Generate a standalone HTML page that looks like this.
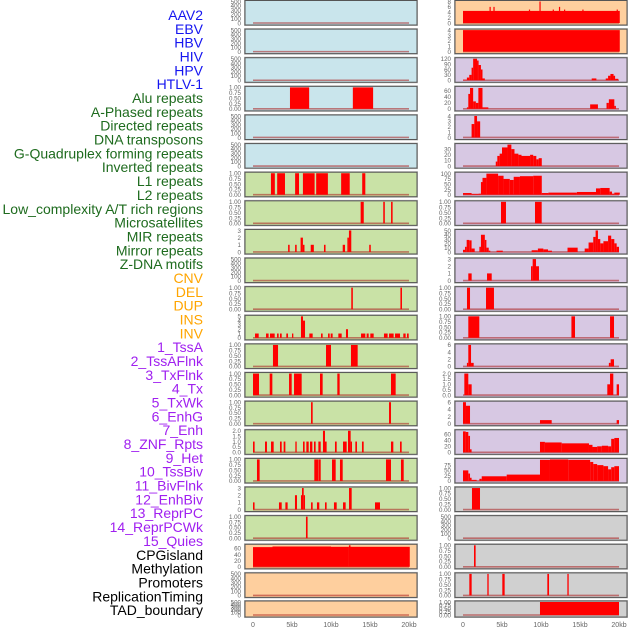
<!DOCTYPE html>
<html><head><meta charset="utf-8">
<style>
html,body{margin:0;padding:0;background:#fff;}
svg{display:block;font-family:"Liberation Sans",sans-serif;}
</style></head>
<body>
<svg id="chart" width="630" height="630" viewBox="0 0 630 630"></svg>
<script>
const labels = ["AAV2","EBV","HBV","HIV","HPV","HTLV-1","Alu repeats","A-Phased repeats","Directed repeats","DNA transposons","G-Quadruplex forming repeats","Inverted repeats","L1 repeats","L2 repeats","Low_complexity A/T rich regions","Microsatellites","MIR repeats","Mirror repeats","Z-DNA motifs","CNV","DEL","DUP","INS","INV","1_TssA","2_TssAFlnk","3_TxFlnk","4_Tx","5_TxWk","6_EnhG","7_Enh","8_ZNF_Rpts","9_Het","10_TssBiv","11_BivFlnk","12_EnhBiv","13_ReprPC","14_ReprPCWk","15_Quies","CPGisland","Methylation","Promoters","ReplicationTiming","TAD_boundary"];
const labelGroups = [6,13,5,15,5];
const groupColors = ["#1515f0","#1e6b1e","#ffa500","#a020f0","#000000"];
const xTicks = [0,5,10,15,20];
const xTickLabels = ["0","5kb","10kb","15kb","20kb"];

// left column panel data: [startKb, endKb, value]
const L1=[],L2=[],L3=[],L5=[],L6=[],L10=[],L21=[],L22=[];
const L4=[[4.74,7.2,1],[12.8,15.4,1]];
const L7=[[2.3,2.8,1],[3.1,4.1,1],[5.4,5.9,1],[6.4,7.9,1],[8.1,9.6,1],[11.3,12.4,1],[14.0,14.4,1]];
const L8=[[13.8,14.2,1],[16.7,16.9,1],[17.7,17.9,1]];
const L9=[[4.5,4.7,1],[5.4,5.6,1],[6.1,6.4,2],[6.4,6.6,1],[7.4,7.8,1],[9.1,9.3,1],[11.5,11.8,1],[12.1,12.3,2],[12.3,12.6,3],[14.9,15.1,1]];
const L11=[[12.6,12.8,1],[18.9,19.1,1]];
const L12=[[0.26,0.73,1],[1.67,2.0,1],[2.18,2.78,1],[3.08,3.29,1],[3.46,3.68,1],[4.27,4.49,1],[5.0,5.17,1],[6.15,6.41,5],[6.41,6.67,4],[7.22,7.65,1],[8.72,8.93,1],[9.62,9.83,1],[9.96,10.21,1],[10.94,11.37,1],[11.92,12.18,2],[13.85,14.4,1],[14.57,14.83,1],[15.04,15.47,1],[16.79,17.26,1],[17.44,18.03,1],[18.21,18.85,1],[19.27,19.57,1],[19.74,19.96,1]];
const L13=[[2.56,3.21,1],[9.36,10.0,1],[12.56,13.42,1]];
const L14=[[0,0.77,1],[2.14,2.48,1],[4.62,4.96,1],[5.26,6.24,1],[8.59,8.93,1],[10.81,11.11,1],[17.69,18.29,1]];
const L15=[[7.44,7.65,1],[17.44,17.69,1]];
const L16=[[0,0.21,1],[1.54,1.79,1],[2.31,2.65,1],[3.46,3.68,1],[3.93,4.15,1],[5.43,5.6,1],[6.41,6.62,1],[6.84,7.14,1],[7.31,7.61,1],[7.82,8.03,1],[8.38,8.68,1],[8.97,9.23,2],[9.23,9.44,1],[10.51,10.73,1],[11.54,12.01,1],[12.18,12.52,2],[12.52,12.69,1],[13.12,13.33,1],[13.97,14.19,1],[17.69,17.99,1],[18.85,19.06,1]];
const L17=[[0.51,0.85,1],[7.86,8.38,1],[8.42,8.68,1],[10.13,10.6,1],[11.15,11.5,1],[17.05,17.69,1],[18.97,19.32,1]];
const L18=[[0,0.2,1],[3.33,3.68,1],[4.15,4.44,1],[5.38,5.64,2],[6.15,6.3,2],[6.28,6.5,3],[6.5,6.67,2],[7.44,7.65,1],[8.2,8.5,1],[9.23,9.44,1],[10.38,10.73,1],[11.54,11.88,1],[12.31,12.65,3],[15.64,16.28,1]];
const L19=[[6.79,7.0,1]];
const L20=[[0,2.5,64],[2.5,10,66],[10,12.3,65],[12.3,12.5,70],[12.5,20.1,65]];

// right column panel data
const R1=[[0,20.1,4.5],[3.4,3.55,6],[3.9,4.05,6],[8.45,8.6,5],[9.8,9.95,8],[11.5,11.65,5],[12.3,12.45,6],[12.95,13.1,5],[15.3,15.45,5],[19.7,19.85,5]];
const R2=[[0,20.1,4]];
const R3=[[0,0.5,3],[0.5,0.8,15],[0.8,1.1,30],[1.1,1.3,70],[1.3,1.8,120],[1.8,2.0,110],[2.0,2.3,85],[2.3,2.5,60],[2.5,2.8,10],[16.5,17.1,10],[18.3,18.6,10],[18.6,18.9,25],[18.9,19.3,35],[19.3,19.5,25],[19.5,19.9,8]];
const R4=[[0.5,0.68,5],[0.68,0.9,50],[0.9,1.3,70],[1.3,1.65,25],[1.65,1.97,20],[1.97,2.5,70],[2.5,3.25,5],[16.3,17.3,15],[18.4,18.7,20],[18.7,19.4,32],[19.4,19.6,10]];
const R5=[[1.1,1.45,2.5],[1.45,1.8,4],[1.8,2.2,3]];
const R6=[[4.2,4.4,8],[4.4,4.7,18],[4.7,5.0,22],[5.0,5.7,33],[5.7,6.2,38],[6.2,6.6,30],[6.6,7.1,22],[7.1,7.5,20],[7.5,8.6,18],[8.6,9.0,20],[9.0,9.4,18],[9.4,9.7,12],[9.7,10.1,14]];
const R7=[[0,1.1,8],[1.1,2.0,4],[2.0,2.3,5],[2.3,2.5,60],[2.5,3.0,80],[3.0,4.5,100],[4.5,5.2,90],[5.2,6.0,75],[6.0,6.5,70],[6.5,7.3,85],[7.3,9.0,88],[9.0,10.1,90],[10.1,10.95,8],[10.95,14.6,10],[14.6,17.05,13],[17.05,17.6,30],[17.6,18.8,32],[18.8,19.1,15],[19.1,19.4,5],[19.4,20.1,10]];
const R8=[[4.87,5.51,1],[9.23,10.09,1]];
const R9=[[0,0.26,5],[0.26,0.47,12],[0.47,0.8,28],[0.8,1.1,27],[1.1,1.5,8],[2.1,2.3,12],[2.3,2.8,40],[2.8,3.0,28],[3.0,3.3,10],[3.3,3.5,3],[4.3,5.1,3],[8.8,9.6,4],[9.6,10.3,8],[10.3,10.9,6],[10.9,11.4,3],[13.4,14.7,10],[15.6,16.1,8],[16.1,16.7,22],[16.7,17.0,35],[17.0,17.3,50],[17.3,17.6,30],[17.6,18.0,20],[18.0,18.6,25],[18.6,19.0,38],[19.0,19.4,30],[19.4,19.7,20],[19.7,20.0,12]];
const R10=[[0.68,1.11,1],[3.08,3.68,1],[8.72,8.93,2],[8.93,9.36,3],[9.36,9.74,2]];
const R11=[[0.51,0.9,1],[2.95,3.97,1]];
const R12=[[0.68,2.09,1],[13.9,14.36,1],[18.85,19.36,1]];
const R13=[[0.5,0.68,1],[0.68,1.03,6],[1.03,1.37,1],[18.7,18.93,1],[18.93,19.36,2]];
const R14=[[0.17,0.68,2],[0.68,1.11,1],[18.5,18.85,1],[18.85,19.27,2],[19.7,20.0,1]];
const R15=[[0,0.38,6],[0.38,0.9,5],[9.87,11.37,1],[19.7,20.0,1]];
const R16=[[0,0.34,70],[0.34,0.68,68],[0.68,0.9,55],[0.9,1.1,10],[9.87,10.5,35],[10.5,12.65,33],[12.65,16.15,30],[16.15,16.6,25],[16.6,17.2,18],[17.2,17.8,20],[17.8,18.6,22],[18.6,19.0,20],[19.0,19.4,45],[19.4,20.0,48]];
const R17=[[0,0.68,50],[0.68,0.9,35],[0.9,1.1,15],[1.1,1.75,5],[2.1,2.4,10],[2.4,5.6,22],[5.6,9.87,30],[9.87,11.15,100],[11.15,13.5,102],[13.5,16.3,100],[16.3,16.7,90],[16.7,17.2,80],[17.2,18.0,75],[18.0,18.6,70],[18.6,19.0,55],[19.0,19.4,65],[19.4,20.0,70]];
const R18=[[1.15,2.18,1]];
const R19=[];
const R20=[[1.41,1.62,1]];
const R21=[[0.81,1.11,1],[3.12,3.29,1],[5.04,5.34,1],[10.81,11.03,1],[13.38,13.55,1]];
const R22=[[9.87,20.0,1]];

const leftData=[L1,L2,L3,L4,L5,L6,L7,L8,L9,L10,L11,L12,L13,L14,L15,L16,L17,L18,L19,L20,L21,L22];
const rightData=[R1,R2,R3,R4,R5,R6,R7,R8,R9,R10,R11,R12,R13,R14,R15,R16,R17,R18,R19,R20,R21,R22];
const leftTicks=[[0,100,200,300,400,500],[0,100,200,300,400,500],[0,100,200,300,400,500],[0,0.25,0.5,0.75,1],[0,100,200,300,400,500],[0,100,200,300,400,500],[0,0.25,0.5,0.75,1],[0,0.25,0.5,0.75,1],[0,1,2,3],[0,100,200,300,400,500],[0,0.25,0.5,0.75,1],[0,1,2,3,4,5],[0,0.25,0.5,0.75,1],[0,0.25,0.5,0.75,1],[0,0.25,0.5,0.75,1],[0,0.5,1,1.5,2],[0,0.25,0.5,0.75,1],[0,1,2,3],[0,0.25,0.5,0.75,1],[0,20,40,60],[0,100,200,300,400,500],[0,100,200,300,400,500]];
const leftMax=[500,500,500,1,500,500,1,1,3,500,1,5,1,1,1,2,1,3,1,70,500,500];
const rightTicks=[[0,2,4,6,8],[0,1,2,3,4],[0,30,60,90,120],[0,20,40,60],[0,1,2,3,4],[0,10,20,30],[0,25,50,75,100],[0,0.25,0.5,0.75,1],[0,10,20,30,40,50],[0,1,2,3],[0,0.25,0.5,0.75,1],[0,0.25,0.5,0.75,1],[0,2,4,6],[0,0.5,1,1.5,2],[0,2,4,6],[0,20,40,60],[0,25,50,75],[0,0.25,0.5,0.75,1],[0,100,200,300,400,500],[0,0.25,0.5,0.75,1],[0,0.25,0.5,0.75,1],[0,0.25,0.5,0.75,1]];
const rightMax=[8,4,120,72,4,38,102,1,50,3,1,1,6,2,6,72,102,1,500,1,1,1];
const leftBg=["#c9e5ec","#c9e5ec","#c9e5ec","#c9e5ec","#c9e5ec","#c9e5ec","#c9e2a6","#c9e2a6","#c9e2a6","#c9e2a6","#c9e2a6","#c9e2a6","#c9e2a6","#c9e2a6","#c9e2a6","#c9e2a6","#c9e2a6","#c9e2a6","#c9e2a6","#fecf9e","#fecf9e","#fecf9e"];
const rightBg=["#fecf9e","#fecf9e","#d7c8e3","#d7c8e3","#d7c8e3","#d7c8e3","#d7c8e3","#d7c8e3","#d7c8e3","#d7c8e3","#d7c8e3","#d7c8e3","#d7c8e3","#d7c8e3","#d7c8e3","#d7c8e3","#d7c8e3","#d0d0d0","#d0d0d0","#d0d0d0","#d0d0d0","#d0d0d0"];

const NS="http://www.w3.org/2000/svg";
const svg=document.getElementById('chart');
function mk(tag,attrs,parent){const e=document.createElementNS(NS,tag);for(const k in attrs)e.setAttribute(k,attrs[k]);(parent||svg).appendChild(e);return e;}

// labels
let gi=0,cnt=0;
labels.forEach((t,i)=>{
  while(cnt>=labelGroups[gi]){cnt=0;gi++;}
  cnt++;
  const tx=mk('text',{x:203,y:15+i*13.84+5,'text-anchor':'end','font-size':'14',fill:groupColors[gi]});
  tx.textContent=t;
  
  
});

function fmt(v,ticks){
  const dec=ticks.some(t=>Math.abs(t-Math.round(t))>1e-9);
  if(!dec) return String(v);
  const quarter=ticks.some(t=>Math.abs(t*4-Math.round(t*4))<1e-9 && Math.abs(t*2-Math.round(t*2))>1e-9);
  return v.toFixed(quarter?2:1);
}

function drawPanel(colLeft,x0px,top,h,bg,data,ymax,ticks,name){
  const g=mk('g',{});
  
  
  const w=172;
  mk('rect',{x:colLeft-0.5,y:top-0.5,width:w+1,height:h+1,fill:'none',stroke:'#bbb','stroke-width':1},g);
  mk('rect',{x:colLeft,y:top,width:w,height:h,fill:bg,stroke:'#555','stroke-width':1},g);
  const xs=k=>x0px+k*7.8;
  const ys=v=>top+h-2-(v/ymax)*(h-3);
  mk('line',{x1:xs(0),x2:xs(20),y1:ys(0),y2:ys(0),stroke:'rgba(170,30,30,0.55)','stroke-width':1.6},g);
  data.forEach(d=>{
    const x1=xs(d[0]),x2=xs(d[1]);
    const r=mk('rect',{x:x1,y:ys(Math.min(d[2],ymax)),width:Math.max(x2-x1,1.2),height:ys(0)-ys(Math.min(d[2],ymax)),fill:'#ff0000'},g);
    
    
  });
  ticks.forEach(t=>{
    if(t>ymax*1.02) return;
    const tt=mk('text',{x:colLeft-4,y:ys(t)+2.3,'text-anchor':'end','font-size':'6.2',fill:'#666'},g);
    tt.textContent=fmt(t,ticks);
  });
}

for(let i=0;i<22;i++){
  const top = i<21 ? 0.5+28.62*i : 601;
  const h = i<21 ? 24.5 : 16;
  drawPanel(245,253,top,h,leftBg[i],leftData[i],leftMax[i],leftTicks[i],'left-track-panel-'+(i+1));
  drawPanel(455,463,top,h,rightBg[i],rightData[i],rightMax[i],rightTicks[i],'right-track-panel-'+(i+1));
}

// x axes
[253,463].forEach((x0,ci)=>{
  xTicks.forEach((k,j)=>{
    const t=mk('text',{x:x0+k*7.8,y:627,'text-anchor':'middle','font-size':'7',fill:'#666'});
    t.textContent=xTickLabels[j];
    
    
  });
});
</script>
</body></html>
